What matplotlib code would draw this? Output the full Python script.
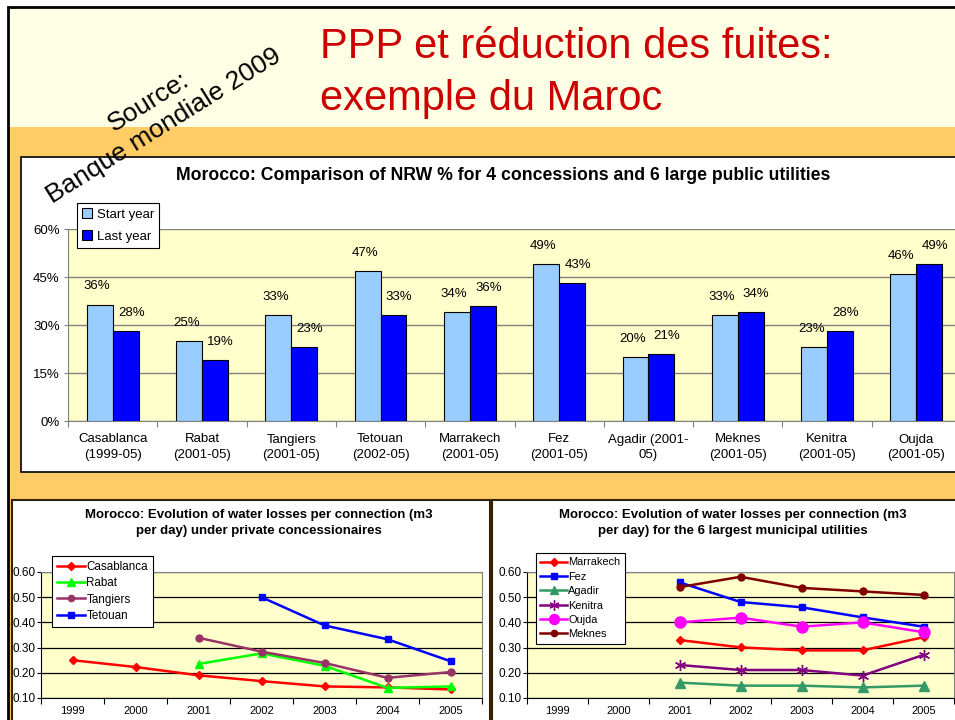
import numpy as np
import matplotlib
matplotlib.use("Agg")
import matplotlib.pyplot as plt
from matplotlib.patches import Rectangle

plt.rcParams['font.family'] = ['Liberation Sans', 'DejaVu Sans']

W, H = 955, 720

# bar chart data (NRW %)
cities = ["Casablanca\n(1999-05)", "Rabat\n(2001-05)", "Tangiers\n(2001-05)", "Tetouan\n(2002-05)",
          "Marrakech\n(2001-05)", "Fez\n(2001-05)", "Agadir (2001-\n05)", "Meknes\n(2001-05)",
          "Kenitra\n(2001-05)", "Oujda\n(2001-05)"]
start_year = [36.4, 25, 33, 47, 34, 49, 20, 33, 23, 46]
last_year = [28, 19, 23, 33, 36, 43, 21, 34, 28, 49]

# water losses per connection (m3/day)
years = ["1999", "2000", "2001", "2002", "2003", "2004", "2005"]
private = {
    "Casablanca": [0.25, 0.223, 0.19, 0.167, 0.146, 0.142, 0.134],
    "Rabat": [None, None, 0.235, 0.277, 0.228, 0.14, 0.146],
    "Tangiers": [None, None, 0.339, 0.284, 0.239, 0.18, 0.203],
    "Tetouan": [None, None, None, 0.50, 0.388, 0.333, 0.246],
}
public = {
    "Marrakech": [None, None, 0.330, 0.301, 0.289, 0.289, 0.341],
    "Fez": [None, None, 0.559, 0.481, 0.46, 0.42, 0.383],
    "Agadir": [None, None, 0.161, 0.149, 0.149, 0.142, 0.149],
    "Kenitra": [None, None, 0.231, 0.211, 0.211, 0.189, 0.271],
    "Oujda": [None, None, 0.40, 0.419, 0.383, 0.40, 0.361],
    "Meknes": [None, None, 0.54, 0.581, 0.537, 0.523, 0.509],
}
styles = {
    "Casablanca": dict(color="#FF0000", marker="D", ms=4),
    "Rabat": dict(color="#00FF00", marker="^", ms=6),
    "Tangiers": dict(color="#993366", marker="o", ms=5),
    "Tetouan": dict(color="#0000FF", marker="s", ms=5),
    "Marrakech": dict(color="#FF0000", marker="D", ms=4),
    "Fez": dict(color="#0000FF", marker="s", ms=5),
    "Agadir": dict(color="#339966", marker="^", ms=7),
    "Kenitra": dict(color="#800080", marker=(6, 2, 0), ms=8, mew=1),
    "Oujda": dict(color="#FF00FF", marker="o", ms=8),
    "Meknes": dict(color="#800000", marker="o", ms=5),
}


def px_axes(fig, x0, y0, x1, y1, **kw):
    return fig.add_axes([x0 / W, 1 - y1 / H, (x1 - x0) / W, (y1 - y0) / H], **kw)


def px_rect(fig, x0, y0, x1, y1, **kw):
    r = Rectangle((x0 / W, 1 - y1 / H), (x1 - x0) / W, (y1 - y0) / H,
                  transform=fig.transFigure, **kw)
    fig.add_artist(r)
    return r


fig = plt.figure(figsize=(W / 100, H / 100), dpi=100)
fig.patch.set_facecolor("white")

# slide background
px_rect(fig, 8, 7, 960, 127, facecolor="#FFFFE5", edgecolor="none", zorder=-10)
px_rect(fig, 8, 127, 960, 725, facecolor="#FFCC66", edgecolor="none", zorder=-10)
px_rect(fig, 8, 7, 960, 725, facecolor="none", edgecolor="black", lw=2, zorder=-9)

# panels
px_rect(fig, 21, 157, 960, 472, facecolor="white", edgecolor="black", lw=1.2, zorder=-8)
px_rect(fig, 12, 500, 490, 725, facecolor="white", edgecolor="#332200", lw=1.5, zorder=-8)
px_rect(fig, 492, 500, 960, 725, facecolor="white", edgecolor="#332200", lw=1.5, zorder=-8)

# header
fig.text(320 / W, 1 - 58 / H, "PPP et réduction des fuites:", color="#CC0000",
         fontsize=30, va="baseline", ha="left")
fig.text(320 / W, 1 - 110 / H, "exemple du Maroc", color="#CC0000",
         fontsize=30, va="baseline", ha="left")
fig.text(156 / W, 1 - 114 / H, "Source:\nBanque mondiale 2009", fontsize=19,
         rotation=32, rotation_mode="anchor", ha="center", va="center",
         multialignment="center", zorder=20)

# ---- bar chart ----
ax = px_axes(fig, 68, 229, 961, 421, facecolor="#FFFFCC")
x = np.arange(len(cities))
bw = 0.29
ax.bar(x - bw / 2, start_year, bw, color="#99CCFF", edgecolor="black", lw=0.8, zorder=3, label="Start year")
ax.bar(x + bw / 2, last_year, bw, color="#0000FF", edgecolor="black", lw=0.8, zorder=3, label="Last year")
for xi, v in zip(x, start_year):
    ax.annotate(f"{v:.0f}%", (xi - bw / 2, v), xytext=(-2, 13), textcoords="offset points",
                ha="center", va="center", fontsize=9.5)
for xi, v in zip(x, last_year):
    ax.annotate(f"{v:.0f}%", (xi + bw / 2, v), xytext=(4, 13), textcoords="offset points",
                ha="center", va="center", fontsize=9.5)
ax.set_xlim(-0.5, len(cities) - 0.5)
ax.set_ylim(0, 60)
ax.set_yticks([0, 15, 30, 45, 60])
ax.set_yticklabels([f"{t}%" for t in [0, 15, 30, 45, 60]], fontsize=9.5)
ax.yaxis.grid(True, color="#808080", lw=1)
ax.set_axisbelow(True)
ax.set_xticks(np.arange(-0.5, len(cities)), labels=[])
ax.set_xticks(x, labels=cities, minor=True, fontsize=9.5, linespacing=1.35)
ax.tick_params(axis="x", which="major", length=4, color="#808080")
ax.tick_params(axis="x", which="minor", length=0, pad=9)
ax.tick_params(axis="y", length=3, color="#808080", pad=3)
for s in ["top", "right"]:
    ax.spines[s].set_visible(False)
for s in ["left", "bottom"]:
    ax.spines[s].set_color("#808080")
fig.text(503 / W, 1 - 175 / H, "Morocco: Comparison of NRW % for 4 concessions and 6 large public utilities",
         fontsize=12.7, fontweight="bold", ha="center", va="center")
leg = ax.legend(loc="upper left", bbox_to_anchor=(77 / W, 1 - 203 / H), bbox_transform=fig.transFigure,
                borderaxespad=0, fancybox=False, edgecolor="black", fontsize=9.5, framealpha=1,
                handlelength=0.7, handleheight=0.7, handletextpad=0.4, labelspacing=0.75,
                borderpad=0.4)
leg.get_frame().set_linewidth(0.8)


# ---- line charts ----
def line_chart(x0, x1, data, title, title_x, leg_xy, fs, lsp):
    a = px_axes(fig, x0, 572, x1, 698, facecolor="#FFFFCC")
    xs = np.arange(len(years))
    for name, vals in data.items():
        v = np.array([np.nan if q is None else q for q in vals], dtype=float)
        st = styles[name]
        a.plot(xs, v, color=st["color"], marker=st["marker"], ms=st["ms"],
               mew=st.get("mew", 1), lw=1.8, label=name, zorder=3)
    a.set_xlim(-0.5, len(years) - 0.5)
    a.set_ylim(0.1, 0.6)
    yt = [0.1, 0.2, 0.3, 0.4, 0.5, 0.6]
    a.set_yticks(yt)
    a.set_yticklabels([f"{t:.2f}" for t in yt], fontsize=8.5)
    a.yaxis.grid(True, color="black", lw=0.9)
    a.set_axisbelow(True)
    a.set_xticks(np.arange(-0.5, len(years)), labels=[])
    a.set_xticks(xs, labels=years, minor=True, fontsize=8)
    a.tick_params(axis="x", which="major", length=4, color="black")
    a.tick_params(axis="x", which="minor", length=0, pad=6)
    a.tick_params(axis="y", length=3, pad=1)
    for s in ["top", "right"]:
        a.spines[s].set_color("#808080")
    fig.text(title_x / W, 1 - 523 / H,
             title, fontsize=9.5, fontweight="bold", ha="center", va="center", linespacing=1.35)
    lg = a.legend(loc="upper left", bbox_to_anchor=(leg_xy[0] / W, 1 - leg_xy[1] / H),
                  bbox_transform=fig.transFigure, borderaxespad=0, fancybox=False,
                  edgecolor="black", framealpha=1, fontsize=fs, handlelength=2.4,
                  handletextpad=0.15, labelspacing=lsp, borderpad=0.4, markerscale=0.9)
    lg.get_frame().set_linewidth(0.8)
    return a


line_chart(41, 482, private,
           "Morocco: Evolution of water losses per connection (m3\nper day) under private concessionaires",
           259, (52, 556), 8.4, 0.38)
line_chart(527, 954, public,
           "Morocco: Evolution of water losses per connection (m3\nper day) for the 6 largest municipal utilities",
           733, (536, 553), 7.9, 0.4)

fig.savefig("out.png", dpi=100)
